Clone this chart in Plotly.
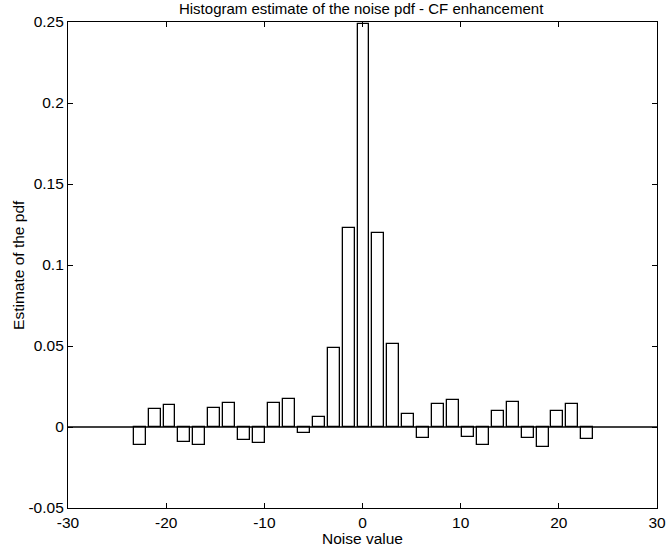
import plotly.graph_objects as go

# Histogram bin centres (31 equal-width bins) and the estimated pdf in each bin
bin_start = -22.7
bin_step = 1.52
pdf_values = [
    -0.0111, 0.0110, 0.0134, -0.0091, -0.0113, 0.0116, 0.0147,
    -0.0081, -0.0099, 0.0147, 0.0173, -0.0039, 0.0064,
    0.0490, 0.1230, 0.2485, 0.1200, 0.0512, 0.0083,
    -0.0070, 0.0140, 0.0167, -0.0062, -0.0111, 0.0099, 0.0155,
    -0.0070, -0.0124, 0.0099, 0.0140, -0.0076,
]
bin_centres = [bin_start + bin_step * k for k in range(len(pdf_values))]

x_ticks = [-30, -20, -10, 0, 10, 20, 30]
x_ticktext = ["-30", "-20", "-10", "0", "10", "20", "30"]
y_ticks = [-0.05, 0, 0.05, 0.1, 0.15, 0.2, 0.25]
y_ticktext = ["-0.05", "0", "0.05", "0.1", "0.15", "0.2", "0.25"]

font_family = "Liberation Sans, Arial, Helvetica, sans-serif"

fig = go.Figure()
fig.add_trace(go.Bar(
    x=bin_centres,
    y=pdf_values,
    width=0.8 * bin_step,
    marker=dict(color="white", line=dict(color="black", width=1.3)),
    showlegend=False,
    hoverinfo="x+y",
))

# bar baseline across the full axis
fig.add_shape(type="line", xref="x", yref="y", x0=-30, x1=30, y0=0, y1=0,
              line=dict(color="black", width=1.3), layer="above")

axis_common = dict(
    showline=True, linecolor="black", linewidth=1.2,
    mirror="allticks", ticks="inside", ticklen=5, tickwidth=1,
    tickcolor="black", showgrid=False, zeroline=False,
    tickfont=dict(family=font_family, size=15.5, color="black"),
    automargin=False,
)

fig.update_layout(
    width=670, height=548,
    margin=dict(l=68, r=13, t=22, b=40),
    paper_bgcolor="white", plot_bgcolor="white",
    font=dict(family=font_family, size=15.5, color="black"),
    title=dict(text="Histogram estimate of the noise pdf - CF enhancement",
               x=0.539, xanchor="center", y=1 - 9 / 548, yanchor="middle",
               font=dict(family=font_family, size=15, color="black")),
    xaxis=dict(range=[-30, 30], tickvals=x_ticks, ticktext=x_ticktext,
               **axis_common),
    yaxis=dict(range=[-0.05, 0.25], tickvals=y_ticks, ticktext=y_ticktext,
               **axis_common),
    bargap=0,
)

# axis labels
fig.add_annotation(text="Noise value", xref="paper", yref="paper",
                   x=0.5, y=-0.063, xanchor="center", yanchor="middle",
                   showarrow=False, font=dict(family=font_family, size=15.5))
fig.add_annotation(text="Estimate of the pdf", xref="paper", yref="paper",
                   x=-0.085, y=0.5, xanchor="center", yanchor="middle",
                   textangle=-90, showarrow=False,
                   font=dict(family=font_family, size=15.5))

fig.write_html("out.html")
